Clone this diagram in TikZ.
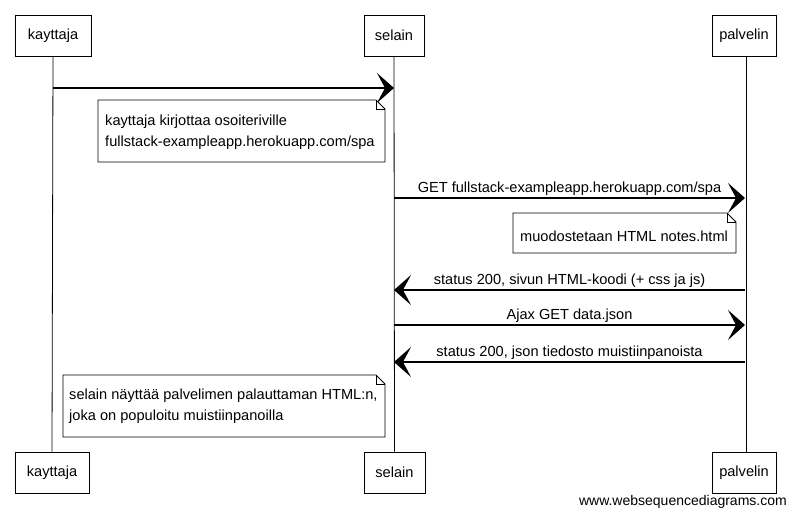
\documentclass[tikz,border=0pt]{standalone}
\usepackage{fontspec}
\setmainfont{Liberation Sans}
\usetikzlibrary{arrows.meta}
\begin{document}
\begin{tikzpicture}[x=1pt,y=-1pt,
  actor/.style={draw, line width=0.9pt, minimum height=41pt, inner sep=0pt, font=\fontsize{14.6}{16}\selectfont},
  life/.style={line width=0.8pt},
  msg/.style={line width=1.4pt, -{Stealth[length=17pt,width=30pt,inset=8pt]}},
  lbl/.style={font=\fontsize{14.6}{16}\selectfont, inner sep=1pt, anchor=south},
  notetext/.style={font=\fontsize{14.6}{21.5}\selectfont, align=left, anchor=west, inner sep=0pt},
  notebox/.style={draw, line width=0.9pt, fill=white}
]
\useasboundingbox (0,0) rectangle (796,517);
% actors
\node[actor, minimum width=76pt] (k1) at (53,35.5) {kayttaja};
\node[actor, minimum width=60pt] (s1) at (394,35.5) {selain};
\node[actor, minimum width=64pt] (p1) at (744,35.5) {palvelin};
\node[actor, minimum width=74pt] (k2) at (52,472.5) {kayttaja};
\node[actor, minimum width=61pt] (s2) at (394.5,472.5) {selain};
\node[actor, minimum width=64pt] (p2) at (744,472.5) {palvelin};
% lifelines
\draw[life] (k1.south) -- (k2.north);
\draw[life] (s1.south) -- (s2.north);
\draw[life] (p1.south -| 746,0) -- (p2.north -| 746,0);
% lifeline anchor points
\coordinate (kA) at (53,88);
\coordinate (sA) at (394,88);
\coordinate (sB) at (394,198);
\coordinate (pB) at (745,198);
\coordinate (pC) at (745,290);
\coordinate (sC) at (394,290);
\coordinate (sD) at (394,325);
\coordinate (pD) at (745,325);
\coordinate (pE) at (745,362);
\coordinate (sE) at (394,362);
% messages
\draw[msg] (kA) -- (sA);
\draw[msg] (sB) -- node[lbl, above=1pt] (l1) {GET fullstack-exampleapp.herokuapp.com/spa} (pB);
\draw[msg] (pC) -- node[lbl, above=1pt] (l2) {status 200, sivun HTML-koodi (+ css ja js)} (sC);
\draw[msg] (sD) -- node[lbl, above=1pt] (l3) {Ajax GET data.json} (pD);
\draw[msg] (pE) -- node[lbl, above=1pt] (l4) {status 200, json tiedosto muistiinpanoista} (sE);
% notes
\draw[notebox] (98,100) -- (376,100) -- (385,109) -- (385,162) -- (98,162) -- cycle;
\draw[line width=0.7pt] (376,100) -- (376,109) -- (385,109);
\node[notetext] (n1) at (105,132) {kayttaja kirjottaa osoiteriville\\fullstack-exampleapp.herokuapp.com/spa};
\draw[notebox] (513,213) -- (727,213) -- (736,222) -- (736,253) -- (513,253) -- cycle;
\draw[line width=0.7pt] (727,213) -- (727,222) -- (736,222);
\node[notetext] (n2) at (520,236) {muodostetaan HTML notes.html};
\draw[notebox] (63,375) -- (376,375) -- (385,384) -- (385,437) -- (63,437) -- cycle;
\draw[line width=0.7pt] (376,375) -- (376,384) -- (385,384);
\node[notetext] (n3) at (69,406) {selain näyttää palvelimen palauttaman HTML:n,\\joka on populoitu muistiinpanoilla};
% watermark
\node[font=\fontsize{14}{16}\selectfont, anchor=east, inner sep=0pt] (w) at (787,502) {www.websequencediagrams.com};
\end{tikzpicture}
\end{document}
